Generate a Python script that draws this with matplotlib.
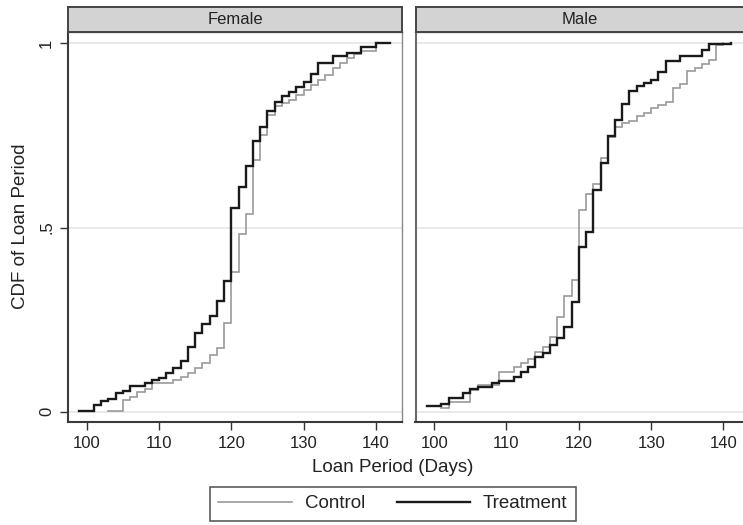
import matplotlib
matplotlib.use("Agg")
import matplotlib.pyplot as plt
from matplotlib.lines import Line2D

plt.rcParams['font.family'] = ['Liberation Sans', 'DejaVu Sans']

# ---- data ----
panels = ["Female", "Male"]
series_names = ["Control", "Treatment"]

fem_treat_days = [99, 101, 102, 103, 104, 105, 106, 108, 109, 110, 111, 112, 113, 114, 115, 116, 117, 118, 119,
                  120, 121, 122, 123, 124, 125, 126, 127, 128, 129, 130, 131, 132, 134, 136, 138, 140, 142]
fem_treat_cdf = [0.003, 0.018, 0.029, 0.034, 0.050, 0.056, 0.070, 0.077, 0.086, 0.092, 0.104, 0.118, 0.138,
                 0.177, 0.215, 0.238, 0.260, 0.300, 0.355, 0.553, 0.611, 0.666, 0.734, 0.774, 0.815, 0.840,
                 0.856, 0.867, 0.881, 0.895, 0.918, 0.947, 0.966, 0.973, 0.990, 1.0, 1.0]

fem_ctrl_days = [103, 105, 106, 107, 108, 109, 112, 113, 114, 115, 116, 117, 118, 119, 120, 121, 122, 123, 124,
                 125, 126, 127, 128, 129, 130, 131, 132, 133, 134, 135, 136, 137, 138, 140]
fem_ctrl_cdf = [0.003, 0.032, 0.040, 0.054, 0.063, 0.079, 0.086, 0.095, 0.104, 0.118, 0.131, 0.154, 0.172,
                0.240, 0.378, 0.482, 0.536, 0.684, 0.752, 0.806, 0.830, 0.838, 0.847, 0.860, 0.874, 0.888,
                0.900, 0.915, 0.933, 0.947, 0.960, 0.970, 0.978, 1.0]

male_treat_days = [99, 101, 102, 104, 105, 106, 108, 109, 111, 112, 113, 114, 115, 116, 117, 118, 119, 120, 121,
                   122, 123, 124, 125, 126, 127, 128, 129, 130, 131, 132, 134, 137, 138, 141]
male_treat_cdf = [0.016, 0.021, 0.038, 0.052, 0.063, 0.068, 0.077, 0.083, 0.095, 0.109, 0.122, 0.149, 0.159,
                  0.181, 0.201, 0.231, 0.299, 0.446, 0.489, 0.602, 0.675, 0.749, 0.791, 0.836, 0.870, 0.885,
                  0.892, 0.901, 0.922, 0.951, 0.966, 0.983, 0.999, 1.0]

male_ctrl_days = [101, 102, 105, 106, 109, 111, 112, 113, 114, 115, 116, 117, 118, 119, 120, 121, 122, 123, 124,
                  125, 126, 127, 128, 129, 130, 131, 132, 133, 134, 135, 136, 137, 138, 139, 140]
male_ctrl_cdf = [0.009, 0.027, 0.059, 0.072, 0.109, 0.122, 0.131, 0.142, 0.163, 0.177, 0.204, 0.258, 0.313,
                 0.358, 0.548, 0.591, 0.619, 0.688, 0.747, 0.774, 0.783, 0.790, 0.803, 0.812, 0.824, 0.832,
                 0.842, 0.879, 0.890, 0.924, 0.933, 0.945, 0.956, 0.996, 1.0]

x_ticks = [100, 110, 120, 130, 140]
y_ticks = [0, 0.5, 1]
y_tick_labels = ["0", ".5", "1"]

data = {
    "Female": {"Control": (fem_ctrl_days, fem_ctrl_cdf), "Treatment": (fem_treat_days, fem_treat_cdf)},
    "Male": {"Control": (male_ctrl_days, male_ctrl_cdf), "Treatment": (male_treat_days, male_treat_cdf)},
}

# ---- styling ----
W, H = 743, 525
fig = plt.figure(figsize=(W / 100, H / 100), dpi=100)
fig.patch.set_facecolor("white")

styles = {"Control": dict(color="#9a9a9a", lw=1.2, zorder=3),
          "Treatment": dict(color="#1a1a1a", lw=1.7, zorder=4)}

panel_left_px = [68, 415.5]
panel_w_px = 334
plot_top_px, plot_bot_px = 31.7, 421.7
strip_top_px = 7.0

def fx(px):
    return px / W

def fy(py):
    return 1 - py / H

for i, name in enumerate(panels):
    lpx = panel_left_px[i]
    ax = fig.add_axes([fx(lpx), fy(plot_bot_px), panel_w_px / W, (plot_bot_px - plot_top_px) / H])
    for yv in y_ticks:
        ax.axhline(yv, color="#e6e6e6", lw=1.2, zorder=1)
    for s in series_names:
        d, v = data[name][s]
        ax.step(d, v, where="post", solid_joinstyle="miter", **styles[s])
    ax.set_xlim(97.42, 143.6)
    ax.set_ylim(-0.0271, 1.0315)
    ax.set_xticks(x_ticks)
    ax.set_xticklabels([str(t) for t in x_ticks])
    ax.tick_params(axis="x", length=6, width=1.0, color="#333333", labelsize=12, pad=4, labelcolor="#222222")
    if i == 0:
        ax.set_yticks(y_ticks)
        ax.set_yticklabels(y_tick_labels, rotation=90, va="center")
        ax.tick_params(axis="y", length=6, width=1.0, color="#333333", labelsize=12, pad=4, labelcolor="#222222")
        ax.set_ylabel("CDF of Loan Period", fontsize=13.5, color="#222222", labelpad=7)
    else:
        ax.set_yticks([])
    for sp in ["left", "bottom"]:
        ax.spines[sp].set_color("#3a3a3a")
        ax.spines[sp].set_linewidth(1.5)
    for sp in ["right", "top"]:
        ax.spines[sp].set_color("#8a8a8a")
        ax.spines[sp].set_linewidth(1.0)
    if i == 1:
        ax.spines["left"].set_color("#6a6a6a")

    # strip header
    sax = fig.add_axes([fx(lpx), fy(plot_top_px), panel_w_px / W, (plot_top_px - strip_top_px) / H])
    sax.set_facecolor("#d3d3d3")
    sax.set_xticks([])
    sax.set_yticks([])
    for sp in sax.spines.values():
        sp.set_color("#444444")
        sp.set_linewidth(1.4)
    cx = 0.5 if i == 0 else (580 - lpx) / panel_w_px
    sax.text(cx, 0.5, name, ha="center", va="center", fontsize=12, color="#222222",
             transform=sax.transAxes)

fig.text(fx(393), fy(467), "Loan Period (Days)", ha="center", va="center", fontsize=13.5, color="#222222")

handles = [Line2D([], [], color=styles[s]["color"], lw=styles[s]["lw"]) for s in series_names]
leg = fig.legend(handles, series_names, loc="center", bbox_to_anchor=(fx(393), fy(503.5)), ncol=2,
                 fontsize=13.5, frameon=True, fancybox=False, edgecolor="#333333", handlelength=3.9,
                 handletextpad=0.7, columnspacing=1.7, borderpad=0.45, borderaxespad=0)
leg.get_frame().set_linewidth(1.2)
for t in leg.get_texts():
    t.set_color("#222222")

fig.savefig("out.png", dpi=100, facecolor="white")
